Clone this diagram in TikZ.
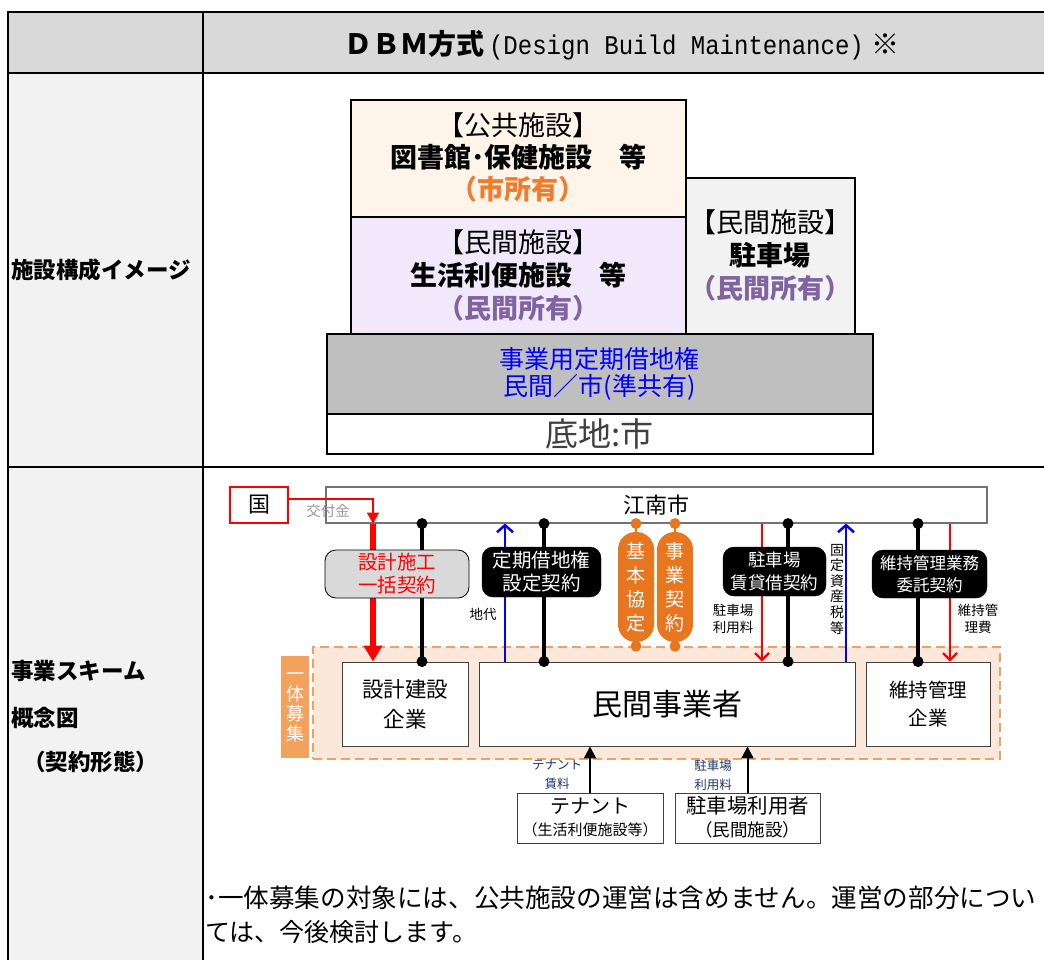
\documentclass[tikz,border=0pt]{standalone}
\usepackage{fontspec}
\usepackage{graphicx}
\setmainfont{Noto Sans CJK JP}
\newfontfamily\monofont{Liberation Mono}
\usetikzlibrary{arrows.meta}
\pgfdeclarelayer{bgzero}
\pgfdeclarelayer{bgone}
\pgfsetlayers{bgzero,bgone,main}
\definecolor{hdr}{HTML}{D9D9D9}
\definecolor{lab}{HTML}{F2F2F2}
\definecolor{pubfill}{HTML}{FEF4EA}
\definecolor{privfill}{HTML}{F1E9FB}
\definecolor{parkfill}{HTML}{F2F2F2}
\definecolor{basefill}{HTML}{BFBFBF}
\definecolor{orgtxt}{HTML}{EE7D2D}
\definecolor{purtxt}{HTML}{8064A2}
\definecolor{pill}{HTML}{E8761E}
\definecolor{regfill}{HTML}{FBE8DA}
\definecolor{regdash}{HTML}{F2A061}
\definecolor{regtag}{HTML}{F3A25E}
\definecolor{navy}{HTML}{1F3864}
\definecolor{grnd}{HTML}{404040}
\begin{document}
\begin{tikzpicture}[x=1pt,y=-1pt,
  txt/.style={inner sep=0pt, align=center},
  bldg/.style={draw=black, line width=1.6pt, inner sep=0pt, anchor=north west},
  sbox/.style={draw=black!75, line width=0.9pt, fill=white, inner sep=0pt, align=center},
  cbox/.style={rounded corners=11pt, fill=black, draw=black, text=white, inner sep=0pt, align=center},
  pillbox/.style={rounded corners=17.5pt, fill=pill, text=white, inner sep=0pt, align=center, minimum width=36pt, minimum height=110pt, font=\fontsize{19}{24}\selectfont},
  bline/.style={line width=3.5pt, black},
  oline/.style={line width=2.5pt, pill},
  redthin/.style={red, line width=2.2pt, -{Straight Barb[length=7pt,width=14pt]}},
  blueup/.style={blue, line width=2.5pt, -{Straight Barb[length=7pt,width=16pt]}},
  lbl/.style={inner sep=0pt, align=center, font=\fontsize{13.5}{17}\selectfont},
  tablab/.style={anchor=west, inner sep=0pt, font=\fontsize{22.5}{24}\selectfont\bfseries}
]
\useasboundingbox (0,0) rectangle (1044,959);
\begin{pgfonlayer}{bgzero}
\fill[white] (0,0) rectangle (1044,959);
\fill[hdr] (8,12) rectangle (1050,73);
\fill[lab] (8,73) rectangle (203,965);
\draw[line width=2.5pt] (1050,12) -- (8,12) -- (8,965);
\draw[line width=2.5pt] (8,73) -- (1050,73);
\draw[line width=2.5pt] (8,467) -- (1050,467);
\draw[line width=2.5pt] (203,12) -- (203,965);
\end{pgfonlayer}

% header and row labels
\node[txt] (title) at (622,45) {{\fontsize{28}{32}\selectfont\bfseries ＤＢＭ方式}\hspace{5pt}{\monofont\fontsize{27}{32}\selectfont\scalebox{0.89}[1]{(Design Build Maintenance)}}\hspace{8pt}{\fontsize{28}{32}\selectfont\bfseries ※}};
\node[tablab] (lab1) at (11,270) {施設構成イメージ};
\node[tablab] (lab2) at (11,671) {事業スキーム};
\node[tablab] (lab3) at (11,718) {概念図};
\node[tablab] (lab4) at (23,762) {（契約形態）};

% building image
\node[bldg, fill=pubfill, minimum width=335pt, minimum height=117pt] (pub) at (350,99) {};
\node[txt, font=\fontsize{27}{32}\selectfont] (pubt) at ([yshift=1pt]pub.center) {【公共施設】\\{\bfseries 図書館･保健施設　等}\\{\bfseries\color{orgtxt}（市所有）}};
\node[bldg, fill=privfill, minimum width=335pt, minimum height=117pt] (priv) at (350,216) {};
\node[txt, font=\fontsize{27}{33}\selectfont] (privt) at (priv.center) {【民間施設】\\{\bfseries 生活利便施設　等}\\{\bfseries\color{purtxt}（民間所有）}};
\node[bldg, fill=parkfill, minimum width=169pt, minimum height=156pt] (park) at (685,177) {};
\node[txt, font=\fontsize{27}{33}\selectfont] (parkt) at (park.center) {【民間施設】\\{\bfseries 駐車場}\\{\bfseries\color{purtxt}（民間所有）}};
\node[bldg, fill=basefill, minimum width=546pt, minimum height=80pt] (base) at (326,333) {};
\node[txt, font=\fontsize{25}{27}\selectfont, text=blue] (baset) at (base.center) {事業用定期借地権\\民間／市(準共有)};
\node[bldg, fill=white, minimum width=546pt, minimum height=40pt] (grd) at (326,413) {};
\node[txt, font=\fontsize{33}{34}\selectfont, text=grnd] (grdt) at (grd.center) {底地:市};

% scheme nodes
\begin{pgfonlayer}{bgzero}
\node[draw=regdash, line width=1.6pt, dash pattern=on 9pt off 5pt, fill=regfill, minimum width=687pt, minimum height=112pt, inner sep=0pt] (region) at (656.5,703) {};
\end{pgfonlayer}
\node[fill=regtag, minimum width=28pt, minimum height=102pt, inner sep=0pt, text=white, align=center, font=\fontsize{18}{20}\selectfont] (tag) at (295,707) {一\\体\\募\\集};
\node[draw=black!55, line width=1.1pt, fill=white, minimum width=661pt, minimum height=36pt, inner sep=0pt, font=\fontsize{22}{24}\selectfont] (konan) at (656.5,505) {江南市};
\node[draw=red, line width=1.2pt, fill=white, minimum width=58pt, minimum height=36pt, inner sep=0pt, font=\fontsize{22}{24}\selectfont] (kuni) at (259,505) {国};
\node[sbox, minimum width=126pt, minimum height=84pt, font=\fontsize{21.5}{30}\selectfont] (sekkei) at (405,704) {設計建設\\企業};
\node[sbox, minimum width=376pt, minimum height=84pt, font=\fontsize{30}{32}\selectfont] (minkan) at (667,704) {民間事業者};
\node[sbox, minimum width=124pt, minimum height=84pt, font=\fontsize{19.5}{28}\selectfont] (ijic) at (928,704) {維持管理\\企業};
\node[sbox, minimum width=146pt, minimum height=50pt] (tenant) at (590,818) {};
\node[txt, font=\fontsize{20}{22}\selectfont] (tenant1) at ([yshift=12pt]tenant.center) {テナント};
\node[txt, font=\fontsize{15}{18}\selectfont] (tenant2) at ([yshift=-12pt]tenant.center) {（生活利便施設等）};
\node[sbox, minimum width=145pt, minimum height=50pt] (puser) at (747.5,818) {};
\node[txt, font=\fontsize{20.5}{22}\selectfont] (puser1) at ([yshift=12pt]puser.center) {駐車場利用者};
\node[txt, font=\fontsize{17.5}{18}\selectfont] (puser2) at ([yshift=-12pt]puser.center) {（民間施設）};

% contract boxes
\node[cbox, fill=hdr, text=red, line width=0.8pt, minimum width=144pt, minimum height=48pt, font=\fontsize{19.5}{23}\selectfont] (sekkeik) at (397,574) {設計施工\\一括契約};
\node[cbox, minimum width=119pt, minimum height=50pt, font=\fontsize{19.5}{23}\selectfont] (teiki) at (541.5,572) {定期借地権\\設定契約};
\node[cbox, minimum width=103pt, minimum height=49pt, font=\fontsize{17.5}{23}\selectfont] (chusha) at (774.5,571.5) {駐車場\\賃貸借契約};
\node[cbox, minimum width=115pt, minimum height=48pt, font=\fontsize{16.5}{22}\selectfont] (ijik) at (929.5,574) {維持管理業務\\委託契約};
\node[pillbox] (pill1) at (636,587) {基\\本\\協\\定};
\node[pillbox] (pill2) at (675,587) {事\\業\\契\\約};

% columns
\coordinate (k1) at (373,0);
\coordinate (k2) at (422,0);
\coordinate (k3) at (505,0);
\coordinate (k4) at (544,0);
\coordinate (k5) at (636,0);
\coordinate (k6) at (675,0);
\coordinate (k7) at (762,0);
\coordinate (k8) at (788,0);
\coordinate (k9) at (846,0);
\coordinate (k10) at (918,0);
\coordinate (k11) at (950,0);

\begin{pgfonlayer}{bgone}
\draw[red, line width=6pt, -{Triangle[length=16pt,width=18pt]}] (k1 |- konan.south) -- (k1 |- sekkei.north);
\draw[bline] (k2 |- konan.south) -- (k2 |- sekkei.north);
\draw[blueup] (k3 |- minkan.north) -- (k3 |- konan.south);
\draw[bline] (k4 |- konan.south) -- (k4 |- minkan.north);
\draw[oline] (k5 |- konan.south) -- (pill1.north);
\draw[oline] (pill1.south) -- (k5 |- region.north);
\draw[oline] (k6 |- konan.south) -- (pill2.north);
\draw[oline] (pill2.south) -- (k6 |- region.north);
\draw[redthin] (k7 |- konan.south) -- (k7 |- minkan.north);
\draw[bline] (k8 |- konan.south) -- (k8 |- minkan.north);
\draw[blueup] (k9 |- minkan.north) -- (k9 |- konan.south);
\draw[bline] (k10 |- konan.south) -- (k10 |- ijic.north);
\draw[redthin] (k11 |- konan.south) -- (k11 |- ijic.north);
\draw[black, line width=2pt, -{Triangle[length=12pt,width=12pt]}] (tenant.north) -- (tenant.north |- minkan.south);
\draw[black, line width=2pt, -{Triangle[length=12pt,width=12pt]}] (puser.north) -- (puser.north |- minkan.south);
\end{pgfonlayer}

\draw[red, line width=1.3pt, -{Triangle[length=11pt,width=12pt]}] ([yshift=6pt]kuni.east) -| (k1 |- konan.south);

% dots
\foreach \c/\n in {k2/sekkei, k4/minkan, k8/minkan, k10/ijic} {
  \fill[black] (\c |- konan.south) circle (5.5pt);
  \fill[black] (\c |- \n.north) circle (5.5pt);
}
\foreach \c in {k5, k6} {
  \fill[pill] (\c |- konan.south) circle (5.5pt);
  \fill[pill] (\c |- region.north) circle (5.5pt);
}

% labels
\node[lbl, text=black!40, font=\fontsize{14.5}{17}\selectfont] (lkofu) at (328,511) {交付金};
\node[lbl] (lchidai) at (483,614) {地代};
\node[lbl] (lpark) at (733,619) {駐車場\\利用料};
\node[txt, font=\fontsize{14}{15.6}\selectfont] (ltax) at (837,589) {固\\定\\資\\産\\税\\等};
\node[lbl] (liji) at (978,619) {維持管\\理費};
\node[txt, text=navy, font=\fontsize{12.5}{19}\selectfont] (lten) at (557,775) {テナント\\賃料};
\node[txt, text=navy, font=\fontsize{12.5}{19}\selectfont] (lpu) at (713,775) {駐車場\\利用料};

% note
\node[anchor=west, inner sep=0pt, font=\fontsize{25.6}{34}\selectfont] (note1) at (205,898) {･一体募集の対象には、公共施設の運営は含めません。運営の部分につい};
\node[anchor=west, inner sep=0pt, font=\fontsize{25}{34}\selectfont] (note2) at (205,932) {ては、今後検討します。};
\end{tikzpicture}
\end{document}
